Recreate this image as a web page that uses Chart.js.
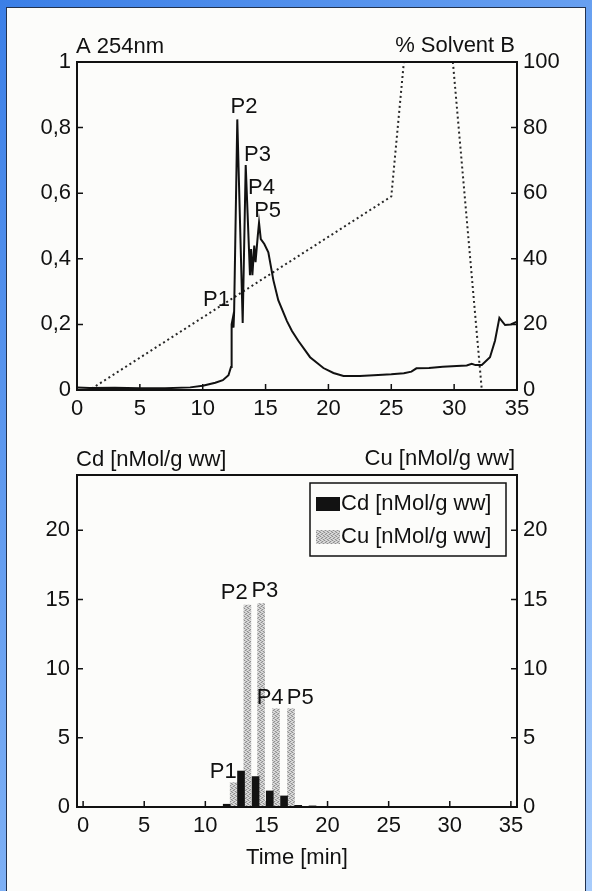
<!DOCTYPE html>
<html>
<head>
<meta charset="utf-8">
<script src="https://cdn.jsdelivr.net/npm/chart.js@4.4.1/dist/chart.umd.min.js"></script>
<style>
  html, body { margin: 0; padding: 0; }
  body {
    width: 592px; height: 891px; overflow: hidden; position: relative;
    background: linear-gradient(135deg, #3b7fe7 0%, #78acf4 55%, #a8ccfb 100%);
  }
  #panel {
    position: absolute; left: 6px; top: 7px; width: 580px; height: 886px;
    box-sizing: border-box; background: #fcfcfa; border: 1px solid #22324e;
  }
  canvas { position: absolute; left: 0; }
  #top { top: 0; }
  #bottom { top: 440px; }
</style>
</head>
<body>
<div id="panel"></div>
<canvas id="top" width="592" height="440" style="width:592px;height:440px"></canvas>
<canvas id="bottom" width="592" height="451" style="width:592px;height:451px"></canvas>
<script>
// --- upper panel: absorbance at 254 nm + % solvent B gradient ---
const absTime  = [0, 1, 3, 5, 7, 9, 10, 11, 11.6, 12.05, 12.25, 12.3, 12.4, 12.45, 12.5, 12.75, 13.18, 13.42,
                  13.76, 13.85, 13.95, 14.1, 14.2, 14.38, 14.48, 14.62, 14.9, 15.22, 15.62, 16.01, 16.7, 17.1, 17.6,
                  18.54, 19.6, 20.4, 21.2, 22.5, 23.6, 25, 26, 26.6, 27.0, 28, 29.1, 30.2, 31.0, 31.4, 31.7,
                  32.2, 32.85, 33.25, 33.6, 34.05, 34.5, 35];
const absValue = [0.008, 0.006, 0.007, 0.005, 0.005, 0.008, 0.013, 0.022, 0.03, 0.045, 0.07, 0.2, 0.22, 0.19, 0.24,
                  0.825, 0.204, 0.686, 0.35, 0.43, 0.35, 0.44, 0.39, 0.47, 0.51, 0.46, 0.445, 0.42, 0.335, 0.274,
                  0.21, 0.18, 0.15, 0.1, 0.067, 0.052, 0.043, 0.043, 0.045, 0.048, 0.051, 0.056, 0.066, 0.067,
                  0.071, 0.073, 0.075, 0.08, 0.076, 0.076, 0.1, 0.15, 0.22, 0.198, 0.2, 0.208];
const gradTime    = [0, 1, 25, 26, 29.9, 32.2, 35];
const gradPercent = [0, 0, 59, 100, 100, 0, 0];

const topXTicks   = [0, 5, 10, 15, 20, 25, 30, 35];
const absTicks    = [0, 0.2, 0.4, 0.6, 0.8, 1];
const absLabels   = ['0', '0,2', '0,4', '0,6', '0,8', '1'];
const solvTicks   = [0, 20, 40, 60, 80, 100];
const topHeaders  = ['A 254nm', '% Solvent B'];
const topPeakName = ['P1', 'P2', 'P3', 'P4', 'P5'];
const topPeakTime = [11.1, 13.29, 14.36, 14.68, 15.16];
const topPeakAbs  = [0.274, 0.863, 0.716, 0.616, 0.546];

// --- lower panel: metal content of fractions ---
const cdTime  = [11.75, 12.92, 14.11, 15.27, 16.44, 17.6, 18.77];
const cdValue = [0.2, 2.6, 2.2, 1.16, 0.8, 0.12, 0.08];
const cuTime  = [12.32, 13.44, 14.56, 15.78, 17.01];
const cuValue = [1.76, 14.6, 14.7, 7.1, 7.1];

const botXTicks   = [0, 5, 10, 15, 20, 25, 30, 35];
const metalTicks  = [0, 5, 10, 15, 20];
const botHeaders  = ['Cd [nMol/g ww]', 'Cu [nMol/g ww]'];
const seriesNames = ['Cd [nMol/g ww]', 'Cu [nMol/g ww]'];
const botPeakName = ['P1', 'P2', 'P3', 'P4', 'P5'];
const botPeakTime = [11.46, 12.36, 14.87, 15.3, 17.76];
const botPeakVal  = [2.54, 15.5, 15.65, 7.9, 7.9];

const ink = '#111111';
const family = "'Liberation Sans', Arial, Helvetica, sans-serif";
Chart.defaults.font.family = family;
Chart.defaults.font.size = 22;
Chart.defaults.color = ink;

function pts(xs, ys) { return xs.map((x, i) => ({ x: x, y: ys[i] })); }

// speckled grey fill for the Cu bars
function stipple() {
  const c = document.createElement('canvas');
  c.width = 4; c.height = 4;
  const g = c.getContext('2d');
  g.fillStyle = '#c4c4c4'; g.fillRect(0, 0, 4, 4);
  g.fillStyle = '#8e8e8e';
  [[0, 0], [2, 1], [1, 2], [3, 3]].forEach(p => g.fillRect(p[0], p[1], 1, 1));
  g.fillStyle = '#e2e2e2';
  [[2, 0], [0, 1], [3, 2], [1, 3]].forEach(p => g.fillRect(p[0], p[1], 1, 1));
  return g.createPattern(c, 'repeat');
}

// frame round the plot area and inward tick marks
const frameTicks = {
  id: 'frameTicks',
  afterDraw(chart) {
    const { ctx, chartArea: a } = chart;
    ctx.save();
    ctx.strokeStyle = ink;
    ctx.lineWidth = 2;
    ctx.strokeRect(a.left, a.top, a.right - a.left, a.bottom - a.top);
    ctx.lineWidth = 1.5;
    ctx.beginPath();
    Object.values(chart.scales).forEach(s => {
      s.ticks.forEach(t => {
        const p = s.getPixelForValue(t.value);
        if (s.axis === 'x') { ctx.moveTo(p, a.bottom); ctx.lineTo(p, a.bottom - 6); }
        else if (s.position === 'left') { ctx.moveTo(a.left, p); ctx.lineTo(a.left + 6, p); }
        else { ctx.moveTo(a.right, p); ctx.lineTo(a.right - 6, p); }
      });
    });
    ctx.stroke();
    ctx.restore();
  }
};

function textLayer(headers, names, times, vals, yId) {
  return {
    id: 'textLayer',
    afterDraw(chart) {
      const { ctx, chartArea: a, scales } = chart;
      ctx.save();
      ctx.fillStyle = ink;
      ctx.font = '22px ' + family;
      ctx.textBaseline = 'middle';
      ctx.textAlign = 'left';
      ctx.fillText(headers[0], a.left - 1, a.top - 15);
      ctx.textAlign = 'right';
      ctx.fillText(headers[1], a.right - 2, a.top - 16);
      ctx.textAlign = 'center';
      names.forEach((n, i) => {
        ctx.fillText(n, scales.x.getPixelForValue(times[i]), scales[yId].getPixelForValue(vals[i]));
      });
      ctx.restore();
    }
  };
}

const boxLegend = {
  id: 'boxLegend',
  afterDraw(chart) {
    const { ctx, chartArea: a } = chart;
    const x0 = a.right - 207, y0 = a.top + 8;
    ctx.save();
    ctx.strokeStyle = ink;
    ctx.lineWidth = 1.5;
    ctx.strokeRect(x0, y0, 196, 73);
    ctx.font = '22px ' + family;
    ctx.textBaseline = 'middle';
    ctx.textAlign = 'left';
    chart.data.datasets.forEach((ds, i) => {
      const cy = y0 + 21 + i * 33;
      ctx.fillStyle = ds.backgroundColor;
      ctx.fillRect(x0 + 6, cy - 7, 24, 14);
      ctx.fillStyle = ink;
      ctx.fillText(ds.label, x0 + 31, cy);
    });
    ctx.restore();
  }
};

const noGrid = { display: false, drawTicks: false };
const noBorder = { display: false };

new Chart(document.getElementById('top'), {
  type: 'line',
  data: {
    datasets: [
      { data: pts(absTime, absValue), borderColor: ink, borderWidth: 2, pointRadius: 0, yAxisID: 'y' },
      { data: pts(gradTime, gradPercent), borderColor: '#262626', borderWidth: 2, borderDash: [2, 3],
        pointRadius: 0, yAxisID: 'y2' }
    ]
  },
  options: {
    responsive: false, animation: false, devicePixelRatio: 1,
    layout: { padding: { top: 62, left: 0, right: 0, bottom: 0 } },
    plugins: { legend: { display: false }, tooltip: { enabled: false } },
    scales: {
      x: {
        type: 'linear', min: 0, max: 35, grid: noGrid, border: noBorder,
        afterBuildTicks: s => { s.ticks = topXTicks.map(v => ({ value: v })); },
        afterFit: s => { s.height = 50; },
        ticks: { padding: 6, maxRotation: 0, autoSkip: false }
      },
      y: {
        position: 'left', min: 0, max: 1, grid: noGrid, border: noBorder,
        afterBuildTicks: s => { s.ticks = absTicks.map(v => ({ value: v })); },
        afterFit: s => { s.width = 77; },
        ticks: { padding: 6, callback: v => absLabels[absTicks.indexOf(v)] }
      },
      y2: {
        position: 'right', min: 0, max: 100, grid: noGrid, border: noBorder,
        afterBuildTicks: s => { s.ticks = solvTicks.map(v => ({ value: v })); },
        afterFit: s => { s.width = 75; },
        ticks: { padding: 6 }
      }
    }
  },
  plugins: [frameTicks, textLayer(topHeaders, topPeakName, topPeakTime, topPeakAbs, 'y')]
});

new Chart(document.getElementById('bottom'), {
  type: 'bar',
  data: {
    datasets: [
      { label: seriesNames[0], data: pts(cdTime, cdValue), backgroundColor: '#121212', yAxisID: 'y',
        barThickness: 7, grouped: false, borderWidth: 0 },
      { label: seriesNames[1], data: pts(cuTime, cuValue), backgroundColor: stipple(), yAxisID: 'y2',
        barThickness: 7, grouped: false, borderWidth: 0 }
    ]
  },
  options: {
    responsive: false, animation: false, devicePixelRatio: 1,
    layout: { padding: { top: 35, left: 0, right: 0, bottom: 0 } },
    plugins: { legend: { display: false }, tooltip: { enabled: false } },
    scales: {
      x: {
        type: 'linear', min: -0.5, max: 35.5, offset: false, grid: noGrid, border: noBorder,
        afterBuildTicks: s => { s.ticks = botXTicks.map(v => ({ value: v })); },
        afterFit: s => { s.height = 84; },
        ticks: { padding: 6, maxRotation: 0, autoSkip: false },
        title: { display: true, text: 'Time [min]', padding: { top: 0, bottom: 20 } }
      },
      y: {
        position: 'left', min: 0, max: 24, grid: noGrid, border: noBorder,
        afterBuildTicks: s => { s.ticks = metalTicks.map(v => ({ value: v })); },
        afterFit: s => { s.width = 77; },
        ticks: { padding: 7 }
      },
      y2: {
        position: 'right', min: 0, max: 24, grid: noGrid, border: noBorder,
        afterBuildTicks: s => { s.ticks = metalTicks.map(v => ({ value: v })); },
        afterFit: s => { s.width = 75; },
        ticks: { padding: 6 }
      }
    }
  },
  plugins: [frameTicks, boxLegend, textLayer(botHeaders, botPeakName, botPeakTime, botPeakVal, 'y')]
});
</script>
</body>
</html>
